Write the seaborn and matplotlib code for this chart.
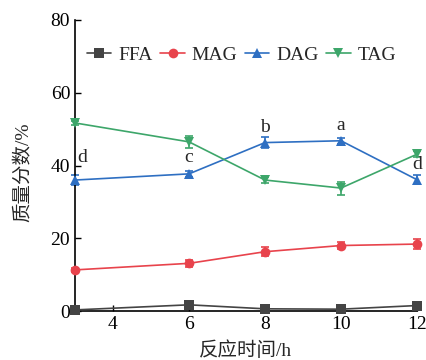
import matplotlib
matplotlib.use("Agg")
import matplotlib.pyplot as plt
import seaborn as sns
import pandas as pd

hours = [3, 6, 8, 10, 12]
ffa = [0.3, 1.7, 0.6, 0.5, 1.5]
ffa_err = [0.3, 0.4, 0.3, 0.3, 0.4]
mag = [11.3, 13.1, 16.3, 18.0, 18.4]
mag_err = [0.6, 1.0, 1.2, 1.0, 1.4]
dag = [36.0, 37.7, 46.3, 46.8, 36.1]
dag_err = [1.3, 0.8, 1.4, 0.8, 1.2]
tag = [51.7, 46.5, 36.0, 33.8, 43.1]
tag_err = [0.6, 1.7, 0.9, 1.8, 0.9]
letters = ["d", "c", "b", "a", "d"]
letter_y = [40.0, 40.0, 48.2, 48.7, 38.0]

series = ["FFA", "MAG", "DAG", "TAG"]
values = [ffa, mag, dag, tag]
errors = [ffa_err, mag_err, dag_err, tag_err]
colors = ["#444444", "#e8434c", "#2e6fc2", "#3da66a"]
markers = ["s", "o", "^", "v"]

sns.set_style("ticks")
plt.rcParams["font.family"] = ["Liberation Serif", "Noto Sans CJK SC"]
plt.rcParams["xtick.direction"] = "in"
plt.rcParams["ytick.direction"] = "in"

fig = plt.figure(figsize=(4.27, 3.6), dpi=100)
ax = fig.add_axes([75 / 427, 1 - 311 / 360, (417 - 75) / 427, (311 - 20) / 360])

rows = []
for name, vals in zip(series, values):
    for h, v in zip(hours, vals):
        rows.append({"h": h, "v": v, "s": name})
df = pd.DataFrame(rows)

sns.lineplot(data=df, x="h", y="v", hue="s", style="s", palette=colors,
             markers=markers, dashes=False, markersize=7, linewidth=1.2,
             markeredgewidth=0, ax=ax, legend=True, clip_on=False, zorder=3)

for vals, errs, c in zip(values, errors, colors):
    ax.errorbar(hours, vals, yerr=errs, fmt="none", ecolor=c, elinewidth=1.2,
                capsize=3, capthick=1.2, clip_on=False, zorder=2)

for i, (h, t, ly) in enumerate(zip(hours, letters, letter_y)):
    ha = "left" if i == 0 else "center"
    xo = 0.06 if i == 0 else 0.0
    ax.text(h + xo, ly, t, ha=ha, va="bottom", fontsize=14)

ax.set_xlim(3, 12)
ax.set_ylim(0, 80)
ax.set_xticks([4, 6, 8, 10, 12])
ax.set_yticks([0, 20, 40, 60, 80])
ax.tick_params(labelsize=14, length=4, width=1, colors="black")
for sp in ["top", "right"]:
    ax.spines[sp].set_visible(False)
for sp in ["left", "bottom"]:
    ax.spines[sp].set_linewidth(1.2)
    ax.spines[sp].set_color("black")

ax.set_xlabel("反应时间/h", fontsize=14, labelpad=6)
ax.set_ylabel("质量分数/%", fontsize=14)
ax.yaxis.set_label_coords(-0.123, 0.478)

h_, l_ = ax.get_legend_handles_labels()
ax.legend(h_, l_, loc="upper center", bbox_to_anchor=(0.487, 0.935), ncol=4,
          frameon=False, fontsize=14, handlelength=1.25, handletextpad=0.35,
          columnspacing=0.4, borderaxespad=0)

fig.savefig("out.png", dpi=100)
